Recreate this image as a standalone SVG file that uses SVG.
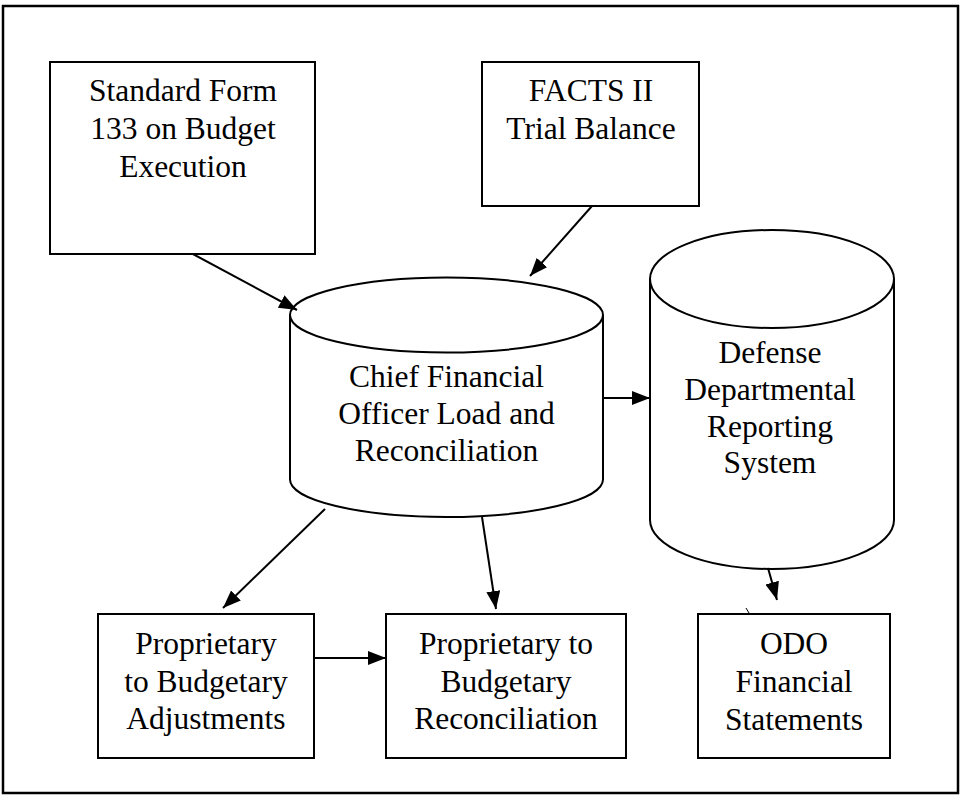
<svg xmlns="http://www.w3.org/2000/svg" width="961" height="796" viewBox="0 0 961 796">
  <style>
    .box { fill: #fff; stroke: #000; stroke-width: 2; }
    .cyl { fill: #fff; stroke: #000; stroke-width: 2; }
    .lbl { font-family: "Liberation Serif", "Times New Roman", serif; font-size: 31.5px; fill: #000; text-anchor: middle; }
    .edge { fill: none; stroke: #000; stroke-width: 2; marker-end: url(#arrow); }
  </style>
  <defs>
    <marker id="arrow" markerUnits="userSpaceOnUse" markerWidth="19" markerHeight="15" refX="18" refY="7" orient="auto">
      <path d="M0,0 L18,7 L0,14 z" fill="#000"/>
    </marker>
  </defs>

  <rect width="961" height="796" fill="#fff"/>
  <!-- outer frame -->
  <rect x="3" y="6" width="955" height="787" fill="none" stroke="#000" stroke-width="2.5"/>

  <g id="sf133">
    <rect class="box" x="50" y="62" width="265" height="192"/>
    <text class="lbl" x="183" y="101">Standard Form</text>
    <text class="lbl" x="183" y="139">133 on Budget</text>
    <text class="lbl" x="183" y="177">Execution</text>
  </g>

  <g id="facts">
    <rect class="box" x="482" y="62" width="217" height="144"/>
    <text class="lbl" x="591" y="101">FACTS II</text>
    <text class="lbl" x="591" y="139">Trial Balance</text>
  </g>

  <g id="cfo">
    <path class="cyl" d="M290,315 L290,479.5 A156.5,37.5 0 0 0 603,479.5 L603,315"/>
    <ellipse class="cyl" cx="446.5" cy="315" rx="156.5" ry="37.5"/>
    <text class="lbl" x="446.5" y="387">Chief Financial</text>
    <text class="lbl" x="446.5" y="424">Officer Load and</text>
    <text class="lbl" x="446.5" y="461">Reconciliation</text>
  </g>

  <g id="ddrs">
    <path class="cyl" d="M650,279 L650,520 A122,49 0 0 0 894,520 L894,279"/>
    <ellipse class="cyl" cx="772" cy="279" rx="122" ry="49"/>
    <text class="lbl" x="770" y="363">Defense</text>
    <text class="lbl" x="770" y="400">Departmental</text>
    <text class="lbl" x="770" y="437">Reporting</text>
    <text class="lbl" x="770" y="473">System</text>
  </g>

  <g id="prop-adj">
    <rect class="box" x="98" y="614" width="216" height="144"/>
    <text class="lbl" x="206" y="654">Proprietary</text>
    <text class="lbl" x="206" y="692">to Budgetary</text>
    <text class="lbl" x="206" y="729">Adjustments</text>
  </g>

  <g id="prop-rec">
    <rect class="box" x="386" y="614" width="240" height="144"/>
    <text class="lbl" x="506" y="654">Proprietary to</text>
    <text class="lbl" x="506" y="692">Budgetary</text>
    <text class="lbl" x="506" y="729">Reconciliation</text>
  </g>

  <g id="odo">
    <rect class="box" x="698" y="614" width="192" height="144"/>
    <text class="lbl" x="794" y="654">ODO</text>
    <text class="lbl" x="794" y="692">Financial</text>
    <text class="lbl" x="794" y="730">Statements</text>
  </g>

  <g id="connectors">
    <line class="edge" x1="193" y1="254" x2="297" y2="310"/>
    <line class="edge" x1="592" y1="206" x2="530" y2="276"/>
    <line class="edge" x1="603" y1="398" x2="650" y2="398"/>
    <line class="edge" x1="325" y1="509" x2="223" y2="608"/>
    <line class="edge" x1="482" y1="517" x2="496" y2="609"/>
    <line class="edge" x1="768" y1="568" x2="777" y2="600"/>
    <line class="edge" x1="314" y1="658" x2="386" y2="658"/>
    <line x1="746" y1="608" x2="749" y2="613" stroke="#000" stroke-width="1"/>
  </g>
</svg>
